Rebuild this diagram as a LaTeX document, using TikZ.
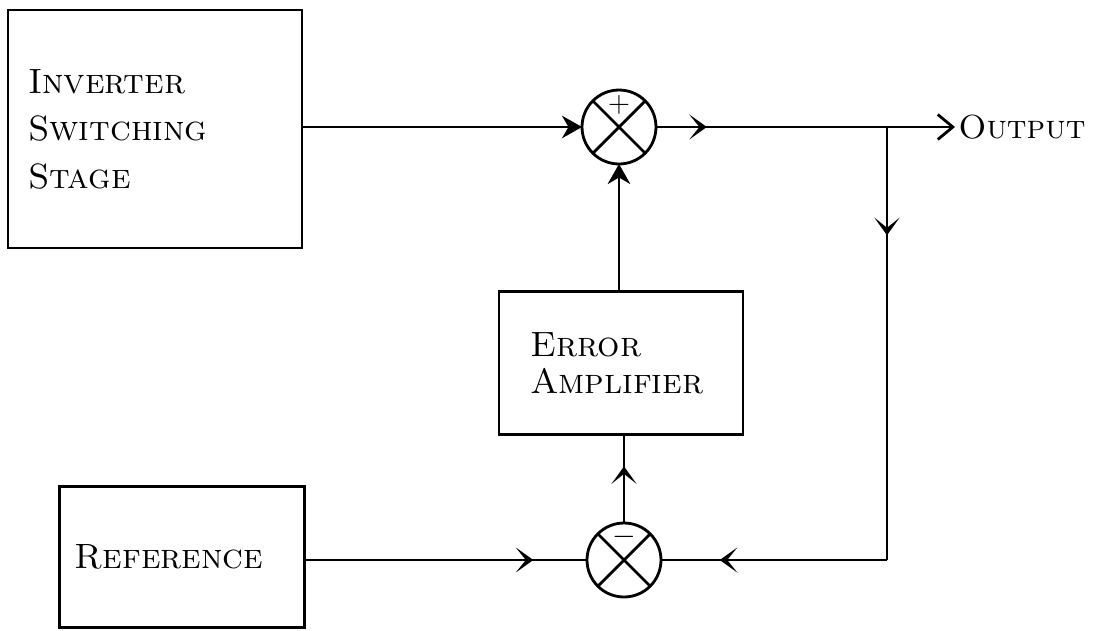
\documentclass[tikz,border=0pt]{standalone}
\usepackage{tikz}
\usetikzlibrary{arrows.meta, positioning, decorations.markings}

\tikzset{
  block/.style={draw, line width=1.5pt, align=left, outer sep=0pt,
    font=\fontsize{20}{27}\selectfont\scshape},
  sumj/.style={draw, circle, line width=1.6pt, minimum size=1.48cm, inner sep=0pt, outer sep=0pt},
  sign/.style={font=\fontsize{17}{17}\selectfont\bfseries, inner sep=0pt},
  wire/.style={line width=1.6pt},
  midarrow/.style={postaction={decorate}, decoration={markings,
    mark=at position #1 with {\arrow{Stealth[length=3.5mm,width=5mm,inset=2mm]}}}}
}

\begin{document}
\begin{tikzpicture}[x=0.02cm, y=-0.02cm]
        \useasboundingbox (0,0) rectangle (1093,630);
        % blocks
        \node[block, minimum width=5.88cm, minimum height=4.76cm, text width=5.08cm, inner xsep=0.4cm]
             (inv) at (155,129) {Inverter\\Switching\\Stage};
        \node[block, minimum width=4.88cm, minimum height=2.86cm, text width=3.64cm, inner xsep=0.62cm]
             (amp) at (621,363) {Error\\[-6pt]Amplifier\\[4pt]};
        \node[block, minimum width=4.9cm, minimum height=2.82cm, text width=4.3cm, inner xsep=0.3cm]
             (ref) at (182,557) {Reference\\[6pt]};
        % summing junctions
        \node[sumj] (stop) at (619,127) {};
        \node[sumj] (sbot) at (624,560) {};
        \foreach \s in {stop, sbot} {
          \draw[wire] (\s.north west) -- (\s.south east) (\s.north east) -- (\s.south west);
        }
        \node[sign] (plus) at ([yshift=0.44cm]stop.center) {$+$};
        \node[sign] (minus) at ([yshift=0.46cm]sbot.center) {$-$};
        % output
        \node[anchor=west, inner sep=0pt, font=\fontsize{19}{19}\selectfont\scshape] (out) at (958,127) {Output};
        \coordinate (br) at (887,127);
        \coordinate (crn) at (887,560);
        % connectors
        \draw[wire, -{Stealth[length=4mm,width=4.5mm]}] (inv.east |- stop) -- (stop.west);
        \draw[wire, midarrow=0.22] (stop.east) -- (br);
        \draw[wire, -{Straight Barb[length=3mm,width=5mm]}] (br) -- ([xshift=-0.06cm]out.west);
        \draw[wire, midarrow=0.25] (br) -- (crn);
        \draw[wire, midarrow=0.74] (crn) -- (sbot.east);
        \draw[wire, midarrow=0.81] (ref.east |- sbot) -- (sbot.west);
        \draw[wire, midarrow=0.64] (sbot.north) -- (sbot.north |- amp.south);
        \draw[wire, -{Stealth[length=4mm,width=4.5mm]}] (amp.north -| stop) -- (stop.south);
      \end{tikzpicture}
\end{document}
